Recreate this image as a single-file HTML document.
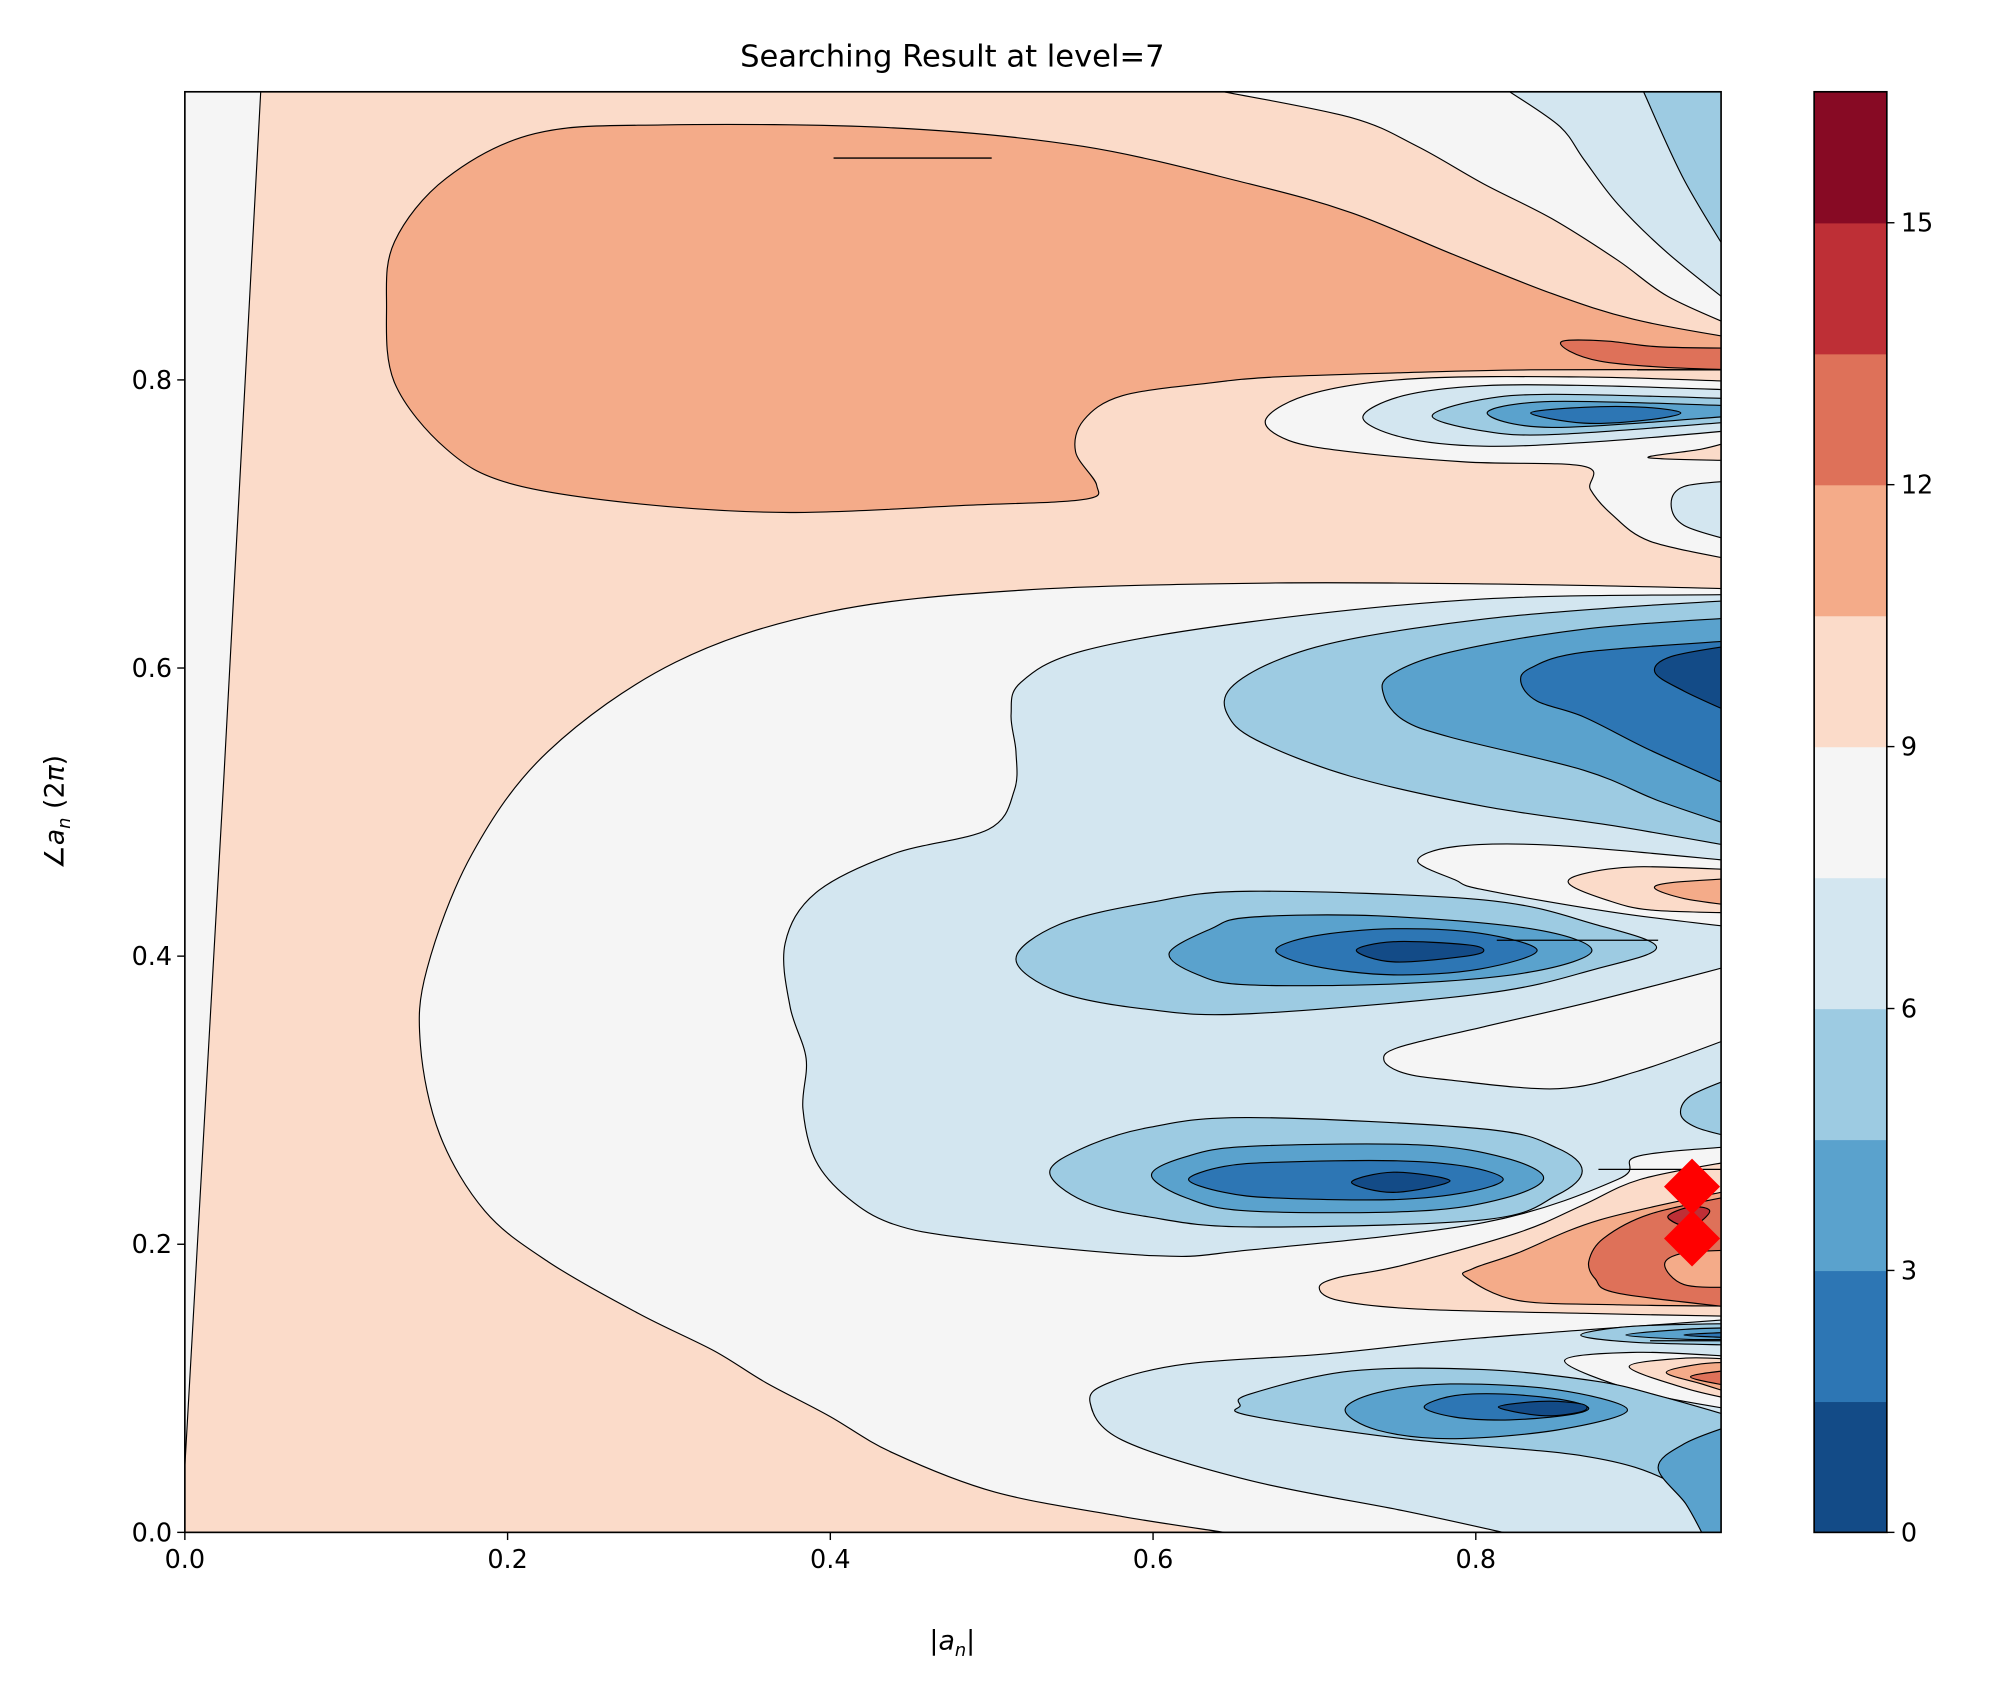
<!DOCTYPE html>
<html><head><meta charset="utf-8"><style>
html,body{margin:0;padding:0;background:#fff}
svg{display:block}
text{font-family:"DejaVu Sans","Liberation Sans",sans-serif;fill:#000}
</style></head><body>
<svg id="chart" width="1999" height="1693" viewBox="0 0 1568 1328" preserveAspectRatio="none" xmlns="http://www.w3.org/2000/svg">
<defs><clipPath id="plotclip"><rect x="145" y="72" width="1205" height="1130"/></clipPath></defs>
<text x="747" y="52" font-size="24" text-anchor="middle">Searching Result at level=7</text>
<g id="plot" clip-path="url(#plotclip)"></g>
<g id="axes"></g>
<g id="cbar"></g>
</svg>
<script>
// ---- data ----
const xTicks = [0, 0.2, 0.4, 0.6, 0.8];
const xTickLabels = ["0.0","0.2","0.4","0.6","0.8"];
const yTicks = [0, 0.2, 0.4, 0.6, 0.8];
const yTickLabels = ["0.0","0.2","0.4","0.6","0.8"];
const levels = [0,1.5,3,4.5,6,7.5,9,10.5,12,13.5,15,16.5];
const levelColors = ["#134b87","#2d76b4","#5aa2cd","#9dcbe2","#d3e6f0","#f5f5f5","#fbdbc9","#f4ab89","#de7159","#be2f36","#870a24"];
const cbarTicks = [0,3,6,9,12,15];
const markerX = [0.934, 0.934];
const markerY = [0.240, 0.204];
// contour regions: [band index, name, points (|a_n|, angle)]
const regions = [
 [5,"white-left",[[-0.01,1.01],[0.047,1.01],[0.047,1],[0,0.046],[-0.01,0.046]]],
 [7,"orange-top",[[0.96,0.829],[0.898,0.842],[0.847,0.860],[0.784,0.888],[0.723,0.916],[0.660,0.936],[0.557,0.962],[0.439,0.975],[0.296,0.977],[0.217,0.971],[0.162,0.940],[0.130,0.896],[0.125,0.851],[0.130,0.798],[0.162,0.752],[0.202,0.728],[0.281,0.714],[0.375,0.708],[0.486,0.713],[0.557,0.717],[0.565,0.727],[0.552,0.750],[0.557,0.772],[0.581,0.789],[0.636,0.798],[0.676,0.802],[0.755,0.805],[0.834,0.807],[0.96,0.807]]],
 [8,"red-strip",[[0.854,0.827],[0.881,0.827],[0.913,0.823],[0.96,0.822],[0.96,0.807],[0.913,0.809],[0.877,0.813],[0.858,0.820]]],
 [5,"white-top-right",[[0.644,1.01],[0.644,1.0],[0.723,0.982],[0.764,0.962],[0.805,0.936],[0.847,0.912],[0.888,0.883],[0.919,0.858],[0.96,0.837],[0.97,1.01]]],
 [4,"lightblue-top-right",[[0.821,1.01],[0.821,1],[0.852,0.976],[0.867,0.953],[0.888,0.922],[0.919,0.888],[0.96,0.851],[0.97,1.01]]],
 [3,"blue-top-right",[[0.904,1.01],[0.904,1],[0.929,0.939],[0.96,0.881],[0.97,1.01]]],
 [5,"white-eye-upper",[[0.96,0.799],[0.866,0.802],[0.764,0.801],[0.700,0.791],[0.670,0.773],[0.684,0.758],[0.723,0.750],[0.794,0.743],[0.867,0.740],[0.871,0.724],[0.884,0.707],[0.908,0.688],[0.96,0.675]]],
 [4,"eye-upper-l4",[[0.96,0.793],[0.874,0.796],[0.805,0.796],[0.755,0.789],[0.730,0.774],[0.755,0.760],[0.805,0.754],[0.874,0.757],[0.96,0.765]]],
 [3,"eye-upper-l3",[[0.96,0.787],[0.847,0.790],[0.802,0.786],[0.773,0.775],[0.802,0.765],[0.847,0.762],[0.96,0.771]]],
 [2,"eye-upper-l2",[[0.96,0.782],[0.847,0.785],[0.807,0.777],[0.847,0.767],[0.96,0.775]]],
 [1,"eye-upper-l1",[[0.834,0.777],[0.867,0.781],[0.905,0.781],[0.927,0.777],[0.905,0.772],[0.867,0.770]]],
 [6,"peach-small",[[0.907,0.746],[0.94,0.752],[0.96,0.758],[0.96,0.744]]],
 [4,"lightblue-right-ellipse",[[0.96,0.730],[0.929,0.726],[0.921,0.714],[0.929,0.699],[0.96,0.688]]],
 [5,"white-big",[[0.96,0.655],[0.834,0.658],[0.676,0.659],[0.518,0.654],[0.399,0.639],[0.304,0.604],[0.225,0.542],[0.178,0.471],[0.150,0.391],[0.146,0.338],[0.158,0.276],[0.186,0.223],[0.225,0.188],[0.281,0.152],[0.328,0.126],[0.360,0.104],[0.399,0.081],[0.439,0.055],[0.502,0.028],[0.581,0.011],[0.644,0],[0.644,-0.01],[0.97,-0.01]]],
 [4,"lightblue-big",[[0.96,0.651],[0.805,0.648],[0.660,0.632],[0.557,0.612],[0.518,0.590],[0.512,0.568],[0.515,0.542],[0.514,0.515],[0.498,0.488],[0.439,0.471],[0.391,0.444],[0.372,0.409],[0.375,0.365],[0.385,0.329],[0.383,0.294],[0.391,0.258],[0.411,0.232],[0.439,0.214],[0.486,0.204],[0.601,0.192],[0.660,0.196],[0.805,0.215],[0.888,0.245],[0.900,0.261],[0.96,0.268]]],
 [3,"upper-trough-l3",[[0.96,0.647],[0.888,0.642],[0.805,0.634],[0.722,0.620],[0.676,0.605],[0.648,0.586],[0.646,0.568],[0.664,0.550],[0.722,0.525],[0.805,0.504],[0.888,0.490],[0.96,0.476]]],
 [2,"upper-trough-l2",[[0.96,0.635],[0.867,0.627],[0.784,0.611],[0.747,0.595],[0.743,0.581],[0.755,0.564],[0.784,0.552],[0.867,0.529],[0.913,0.508],[0.96,0.490]]],
 [1,"upper-trough-l1",[[0.96,0.619],[0.867,0.611],[0.834,0.600],[0.828,0.590],[0.838,0.577],[0.867,0.566],[0.908,0.543],[0.96,0.517]]],
 [0,"upper-trough-l0",[[0.96,0.616],[0.921,0.608],[0.911,0.597],[0.929,0.584],[0.96,0.568]]],
 [5,"white-lobe-mid",[[0.96,0.466],[0.847,0.477],[0.787,0.476],[0.764,0.466],[0.787,0.453],[0.805,0.446],[0.888,0.430],[0.96,0.420]]],
 [6,"peach-lobe-mid",[[0.96,0.460],[0.900,0.462],[0.866,0.457],[0.858,0.450],[0.881,0.439],[0.908,0.432],[0.96,0.430]]],
 [7,"orange-lobe-mid",[[0.96,0.454],[0.921,0.451],[0.911,0.447],[0.929,0.440],[0.96,0.435]]],
 [3,"mid-eye-l3",[[0.515,0.398],[0.542,0.422],[0.597,0.437],[0.660,0.445],[0.805,0.439],[0.874,0.422],[0.912,0.406],[0.874,0.391],[0.805,0.374],[0.660,0.360],[0.597,0.363],[0.542,0.375]]],
 [2,"mid-eye-l2",[[0.610,0.402],[0.636,0.419],[0.660,0.427],[0.739,0.428],[0.834,0.419],[0.872,0.404],[0.834,0.389],[0.755,0.381],[0.660,0.380],[0.628,0.387]]],
 [1,"mid-eye-l1",[[0.676,0.404],[0.700,0.414],[0.749,0.419],[0.802,0.416],[0.838,0.404],[0.802,0.391],[0.749,0.387],[0.700,0.393]]],
 [0,"mid-eye-l0",[[0.726,0.404],[0.749,0.410],[0.794,0.408],[0.805,0.404],[0.794,0.400],[0.749,0.396]]],
 [5,"white-lobe-lower",[[0.96,0.394],[0.874,0.369],[0.805,0.351],[0.753,0.337],[0.743,0.328],[0.755,0.319],[0.784,0.314],[0.851,0.308],[0.900,0.320],[0.96,0.344]]],
 [3,"small-right-l3",[[0.96,0.316],[0.933,0.303],[0.927,0.290],[0.937,0.281],[0.96,0.274]]],
 [3,"lower-eye-l3",[[0.536,0.250],[0.557,0.267],[0.597,0.281],[0.660,0.288],[0.805,0.280],[0.850,0.267],[0.866,0.251],[0.850,0.234],[0.805,0.217],[0.660,0.212],[0.597,0.219],[0.557,0.230]]],
 [2,"lower-eye-l2",[[0.599,0.248],[0.621,0.261],[0.660,0.268],[0.764,0.269],[0.818,0.260],[0.842,0.246],[0.818,0.232],[0.764,0.223],[0.660,0.223],[0.621,0.232]]],
 [1,"lower-eye-l1",[[0.622,0.245],[0.644,0.254],[0.678,0.257],[0.749,0.258],[0.794,0.254],[0.817,0.245],[0.794,0.236],[0.749,0.231],[0.678,0.232],[0.644,0.236]]],
 [0,"lower-eye-l0",[[0.723,0.243],[0.749,0.250],[0.784,0.244],[0.749,0.236]]],
 [6,"peach-peak",[[0.96,0.258],[0.902,0.245],[0.866,0.227],[0.826,0.208],[0.753,0.185],[0.715,0.177],[0.703,0.170],[0.715,0.161],[0.764,0.155],[0.867,0.152],[0.96,0.150]]],
 [7,"orange-peak",[[0.96,0.238],[0.877,0.217],[0.826,0.194],[0.798,0.183],[0.794,0.177],[0.826,0.161],[0.889,0.158],[0.96,0.157]]],
 [8,"red-peak",[[0.96,0.234],[0.908,0.221],[0.879,0.204],[0.870,0.188],[0.874,0.176],[0.888,0.166],[0.96,0.156]]],
 [7,"orange-peak-inner",[[0.96,0.196],[0.929,0.194],[0.917,0.186],[0.929,0.172],[0.96,0.170]]],
 [9,"darkred-peak",[[0.919,0.219],[0.933,0.226],[0.945,0.223],[0.933,0.212]]],
 [4,"lightblue-bottom",[[0.561,0.090],[0.573,0.104],[0.621,0.117],[0.708,0.124],[0.803,0.135],[0.96,0.148],[0.97,-0.01],[0.817,-0.01],[0.817,0],[0.755,0.015],[0.660,0.036],[0.581,0.064]]],
 [3,"small-group-l3",[[0.865,0.137],[0.897,0.143],[0.96,0.145],[0.96,0.130],[0.897,0.132]]],
 [2,"small-group-l2",[[0.893,0.137],[0.93,0.141],[0.96,0.142],[0.96,0.134],[0.93,0.134]]],
 [1,"small-group-l1",[[0.929,0.137],[0.96,0.139],[0.96,0.135]]],
 [5,"white-lobe-bottom",[[0.855,0.119],[0.90,0.125],[0.96,0.122],[0.96,0.085],[0.90,0.098]]],
 [6,"peach-lobe-bottom",[[0.895,0.115],[0.93,0.121],[0.96,0.120],[0.96,0.092],[0.93,0.100]]],
 [7,"orange-lobe-bottom",[[0.918,0.111],[0.94,0.117],[0.96,0.118],[0.96,0.096],[0.94,0.103]]],
 [8,"red-lobe-bottom",[[0.933,0.108],[0.96,0.113],[0.96,0.101]]],
 [3,"bottom-eye-l3",[[0.654,0.088],[0.660,0.096],[0.723,0.112],[0.805,0.113],[0.874,0.105],[0.913,0.095],[0.96,0.080],[0.97,-0.01],[0.945,-0.01],[0.945,0],[0.939,0.013],[0.919,0.036],[0.867,0.053],[0.755,0.065],[0.660,0.081]]],
 [2,"bottom-right-l2",[[0.96,0.075],[0.93,0.062],[0.913,0.045],[0.93,0.02],[0.94,0],[0.94,-0.01],[0.97,-0.01]]],
 [2,"bottom-eye-l2",[[0.719,0.085],[0.739,0.097],[0.784,0.103],[0.850,0.099],[0.894,0.085],[0.850,0.071],[0.784,0.065],[0.739,0.071]]],
 [1,"bottom-eye-l1",[[0.768,0.087],[0.787,0.095],[0.818,0.096],[0.854,0.092],[0.870,0.086],[0.854,0.081],[0.818,0.078],[0.787,0.080]]],
 [0,"bottom-eye-l0",[[0.814,0.087],[0.842,0.091],[0.866,0.089],[0.866,0.084],[0.842,0.081]]]
];
const segments = [
 [[0.402,0.954],[0.500,0.954]],
 [[0.90,0.807],[0.96,0.807]],
 [[0.813,0.411],[0.913,0.411]],
 [[0.876,0.252],[0.96,0.252]],
 [[0.908,0.133],[0.96,0.133]]
];
// ---- axes ----
const X0=145, X1=1350, Y0=1202, Y1=72;
const xMax=0.952, yMax=1.0;
function X(v){return X0+v/xMax*(X1-X0);}
function Y(v){return Y0-v/yMax*(Y0-Y1);}
const CB_X=1423, CB_W=57;
function CY(v){return Y0-(v-levels[0])/(levels[levels.length-1]-levels[0])*(Y0-Y1);}
const NS="http://www.w3.org/2000/svg";
function mk(tag,attrs,parent){const e=document.createElementNS(NS,tag);for(const k in attrs)e.setAttribute(k,attrs[k]);parent.appendChild(e);return e;}
function outside(q){return q[0]>=0.955||q[0]<0||q[1]<=0||q[1]>=1;}
function smoothPath(pts){
  const p=pts.map(q=>[X(q[0]),Y(q[1])]);const n=p.length;
  let d="M"+p[0][0].toFixed(1)+","+p[0][1].toFixed(1);
  for(let i=0;i<n;i++){
    const j=(i+1)%n;
    const a=p[(i-1+n)%n],b=p[i],c=p[j],e=p[(i+2)%n];
    if(outside(pts[i])&&outside(pts[j])){d+="L"+c[0].toFixed(1)+","+c[1].toFixed(1);continue;}
    const A=outside(pts[i])?b:a, E=outside(pts[j])?c:e;
    const c1=[b[0]+(c[0]-A[0])/6,b[1]+(c[1]-A[1])/6];
    const c2=[c[0]-(E[0]-b[0])/6,c[1]-(E[1]-b[1])/6];
    d+="C"+c1[0].toFixed(1)+","+c1[1].toFixed(1)+" "+c2[0].toFixed(1)+","+c2[1].toFixed(1)+" "+c[0].toFixed(1)+","+c[1].toFixed(1);
  }
  return d+"Z";
}
const plot=document.getElementById("plot");
const bg=mk("rect",{x:X0,y:Y1,width:X1-X0,height:Y0-Y1,fill:levelColors[6]},plot);


regions.forEach(r=>{
  const el=mk("path",{d:smoothPath(r[2]),fill:levelColors[r[0]],stroke:"#000","stroke-width":0.9},plot);
  
  
});
segments.forEach(s=>{
  const el=mk("line",{x1:X(s[0][0]),y1:Y(s[0][1]),x2:X(s[1][0]),y2:Y(s[1][1]),stroke:"#000","stroke-width":1},plot);
  
  
});
markerX.forEach((mx,i)=>{
  const cx=X(mx),cy=Y(markerY[i]),h=22;
  const el=mk("polygon",{points:`${cx},${cy-h} ${cx+h},${cy} ${cx},${cy+h} ${cx-h},${cy}`,fill:"#ff0000"},plot);
  
  
});
const axes=document.getElementById("axes");
const frame=mk("rect",{x:X0,y:Y1,width:X1-X0,height:Y0-Y1,fill:"none",stroke:"#000","stroke-width":1.3},axes);


xTicks.forEach((t,i)=>{
  const x=X(t);
  const tk=mk("line",{x1:x,y1:Y0,x2:x,y2:Y0+6,stroke:"#000","stroke-width":1.1},axes);
  
  
  const lb=mk("text",{x:x,y:Y0+28,"font-size":20,"text-anchor":"middle"},axes);
  lb.textContent=xTickLabels[i];
  
  
});
yTicks.forEach((t,i)=>{
  const y=Y(t);
  const tk=mk("line",{x1:X0-6,y1:y,x2:X0,y2:y,stroke:"#000","stroke-width":1.1},axes);
  
  
  const lb=mk("text",{x:X0-10,y:y+7,"font-size":20,"text-anchor":"end"},axes);
  lb.textContent=yTickLabels[i];
  
  
});
const xl=mk("text",{x:747,y:1294,"font-size":21,"text-anchor":"middle"},axes);
xl.innerHTML='|<tspan font-style="italic">a</tspan><tspan font-style="italic" font-size="14" dy="5">n</tspan><tspan dy="-5">|</tspan>';


const yl=mk("text",{x:0,y:0,"font-size":21,"text-anchor":"middle",transform:"translate(50,637) rotate(-90)"},axes);
yl.innerHTML='∠<tspan font-style="italic">a</tspan><tspan font-style="italic" font-size="14" dy="5">n</tspan><tspan dy="-5">  (2</tspan><tspan font-style="italic">π</tspan>)';


const cb=document.getElementById("cbar");
levelColors.forEach((c,i)=>{
  const y1=CY(levels[i+1]),y0=CY(levels[i]);
  const el=mk("rect",{x:CB_X,y:y1,width:CB_W,height:y0-y1+0.5,fill:c},cb);
  
  
});
const cbf=mk("rect",{x:CB_X,y:Y1,width:CB_W,height:Y0-Y1,fill:"none",stroke:"#000","stroke-width":1.3},cb);


cbarTicks.forEach(t=>{
  const y=CY(t);
  const tk=mk("line",{x1:CB_X+CB_W,y1:y,x2:CB_X+CB_W+6,y2:y,stroke:"#000","stroke-width":1.1},cb);
  
  
  const lb=mk("text",{x:CB_X+CB_W+11,y:y+7,"font-size":20},cb);
  lb.textContent=String(t);
  
  
});
</script>
</body></html>
